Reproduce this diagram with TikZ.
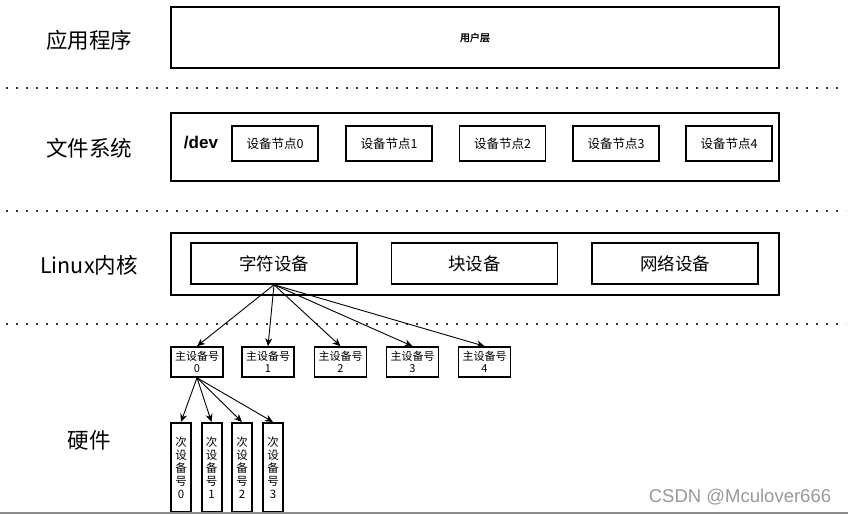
\documentclass[tikz,border=0pt]{standalone}
\usepackage{fontspec}
\setmainfont{Noto Sans CJK SC}[AutoFakeBold=2]
\newfontfamily\lib{Liberation Sans}
\usetikzlibrary{arrows.meta}
\tikzset{
  fs/.style={font=\fontsize{#1}{#1}\selectfont},
  layerbox/.style={draw, line width=1.6pt, inner sep=0pt, minimum width=608pt},
  nodebox/.style={draw, line width=1.5pt, inner sep=0pt, minimum width=86pt, minimum height=35pt, fs=12.5},
  devbox/.style={draw, line width=1.5pt, inner sep=0pt, minimum width=166pt, minimum height=41pt, fs=17.5},
  majbox/.style={draw, line width=1.6pt, inner sep=0pt, minimum width=52pt, minimum height=30pt, align=center, font=\fontsize{11}{12}\selectfont},
  minbox/.style={draw, line width=2pt, inner sep=0pt, minimum width=20pt, minimum height=89pt, align=center, font=\fontsize{11.5}{13}\selectfont},
  layerlabel/.style={fs=21.5},
  dotline/.style={line width=2pt, dash pattern=on 1.6pt off 8.4pt, black!80},
  arr/.style={line width=0.9pt, -{Stealth[length=8pt,width=7pt,inset=2.5pt]}},
}
\begin{document}
\begin{tikzpicture}[x=1pt,y=-1pt]
\fill[white] (0,0) rectangle (848,514);
\useasboundingbox (0,0) rectangle (848,514);

% layer labels
\node[layerlabel] (lapp) at (89,40) {应用程序};
\node[layerlabel] (lfs) at (89,148) {文件系统};
\node[layerlabel] (lkern) at (89,265) {Linux内核};
\node[layerlabel] (lhw) at (89,440) {硬件};

% dotted separators
\draw[dotline] (6,88) -- (846,88);
\draw[dotline] (6,211) -- (846,211);
\draw[dotline] (6,324) -- (846,324);

% user layer
\node[layerbox, minimum height=61pt, font=\bfseries\fontsize{10}{10}\selectfont] (user) at (475,37.5) {用户层};

% file system layer
\node[layerbox, minimum height=68pt] (fsbox) at (475,147) {};
\node[font=\lib\bfseries\fontsize{17}{17}\selectfont] (dev) at (201,143) {/dev};
\node[nodebox] (n0) at (275,143.5) {设备节点0};
\node[nodebox] (n1) at (389,143.5) {设备节点1};
\node[nodebox] (n2) at (502.5,143.5) {设备节点2};
\node[nodebox] (n3) at (616,143.5) {设备节点3};
\node[nodebox] (n4) at (729,143.5) {设备节点4};

% kernel layer
\node[layerbox, minimum height=62pt] (kern) at (475,264) {};
\node[devbox] (cd) at (274,263.5) {字符设备};
\node[devbox] (bd) at (474.5,263.5) {块设备};
\node[devbox] (nd) at (675,263.5) {网络设备};

% major numbers
\node[majbox] (m0) at (197,362) {主设备号\\0};
\node[majbox] (m1) at (268,362) {主设备号\\1};
\node[majbox] (m2) at (340.5,362) {主设备号\\2};
\node[majbox] (m3) at (412.5,362) {主设备号\\3};
\node[majbox] (m4) at (484.5,362) {主设备号\\4};

% minor numbers
\node[minbox] (s0) at (181,467.5) {次\\设\\备\\号\\0};
\node[minbox] (s1) at (211.5,467.5) {次\\设\\备\\号\\1};
\node[minbox] (s2) at (242,467.5) {次\\设\\备\\号\\2};
\node[minbox] (s3) at (273,467.5) {次\\设\\备\\号\\3};

% arrows
\foreach \t in {m0,m1,m2,m3,m4} \draw[arr] (cd.south) -- (\t.north);
\foreach \t in {s0,s1,s2,s3} \draw[arr] (m0.south) -- (\t.north);

% bottom rule and watermark
\draw[black!45, line width=1.5pt] (0,513) -- (848,513);
\node[font=\lib\fontsize{18.5}{18.5}\selectfont, text=black!40] (wm) at (740,497) {CSDN @Mculover666};
\end{tikzpicture}
\end{document}
